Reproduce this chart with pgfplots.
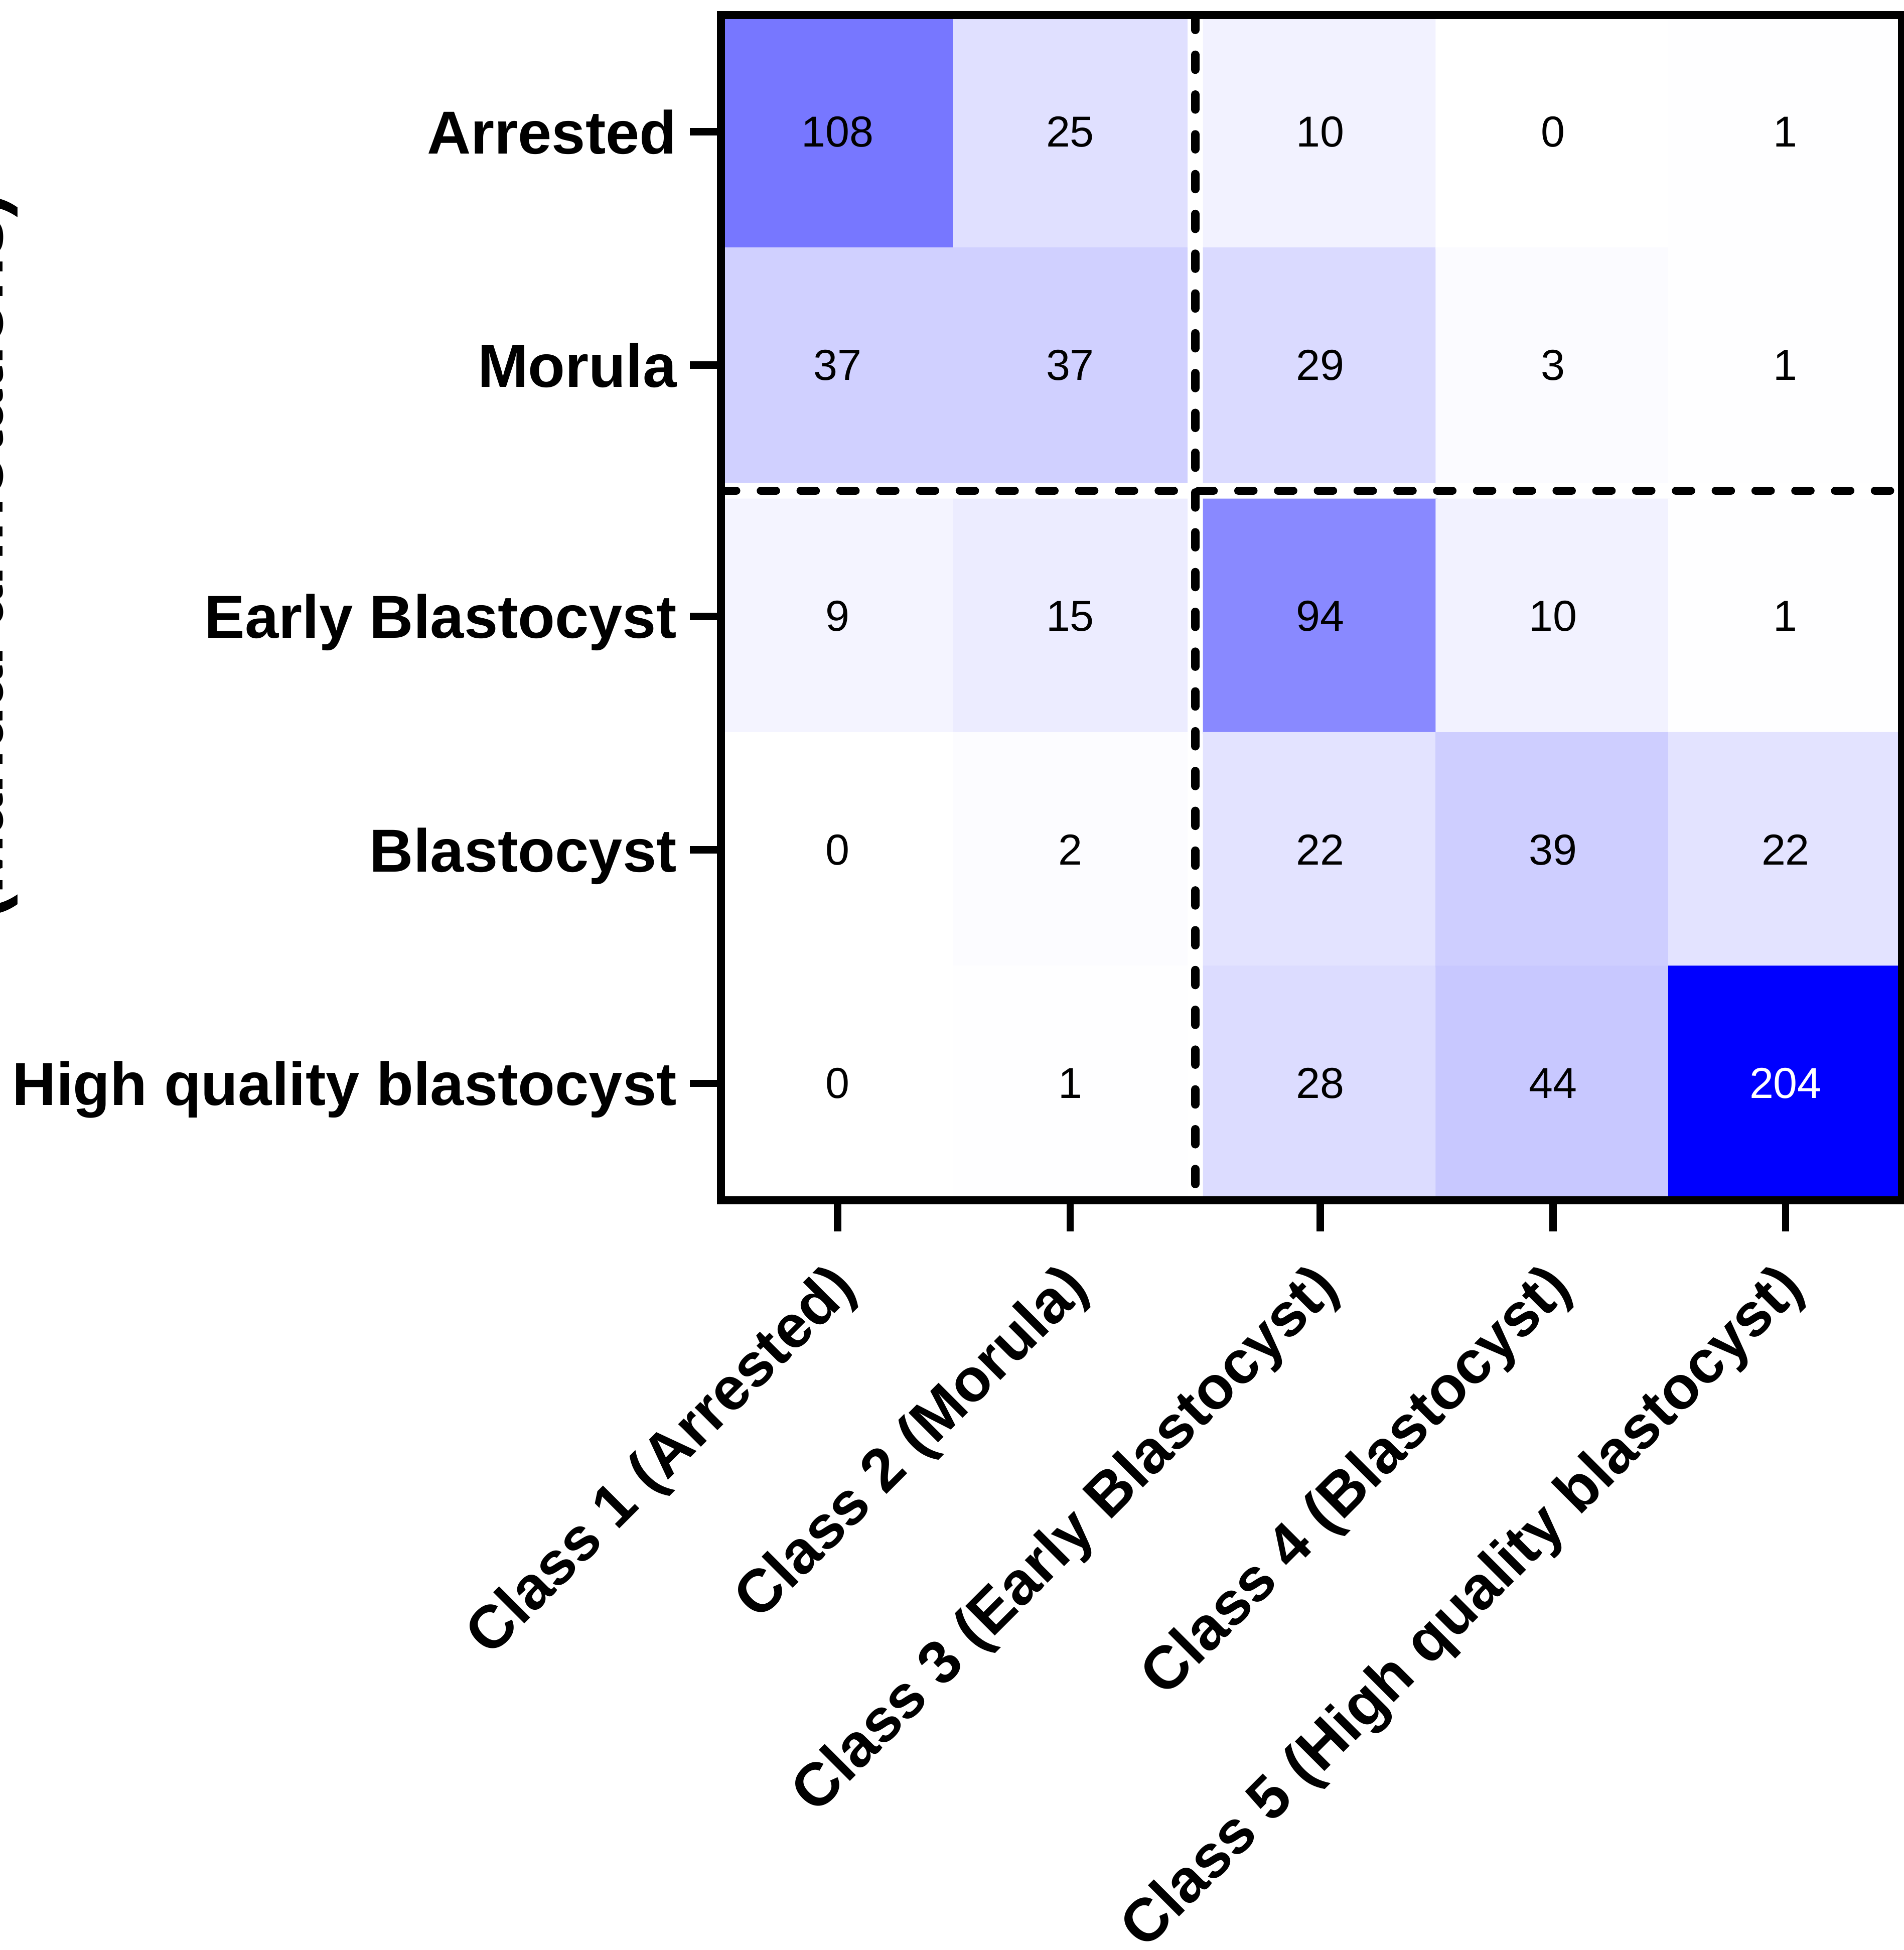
\documentclass[border=0pt]{standalone}
\usepackage{fontspec}
\setmainfont{Liberation Sans}
\usepackage{pgfplots}
\pgfplotsset{compat=1.18}
\begin{document}
\begin{tikzpicture}
\begin{axis}[
  scale only axis, width=237.4pt, height=238.25pt,
  xmin=-0.5, xmax=4.575, ymin=-0.5, ymax=4.575, y dir=reverse,
  enlargelimits=false, axis on top,
  colormap={bw}{rgb255=(255,255,255) rgb255=(0,0,255)},
  point meta min=0, point meta max=204,
  xtick={0,1,2.075,3.075,4.075}, ytick={0,1,2.075,3.075,4.075},
  xticklabels={Class 1 (Arrested), Class 2 (Morula), Class 3 (Early Blastocyst), Class 4 (Blastocyst), Class 5 (High quality blastocyst)},
  yticklabels={Arrested, Morula, Early Blastocyst, Blastocyst, High quality blastocyst},
  tick align=outside, xtick pos=bottom, ytick pos=left,
  major tick length=6.25pt,
  tick style={line width=1.5pt, black},
  axis line style={line width=1.6pt, black},
  ticklabel style={font=\bfseries\fontsize{12.2}{14}\selectfont, inner sep=0pt},
  xticklabel style={xshift=2pt, yshift=-9.5pt, rotate=45, anchor=east},
  yticklabel style={xshift=-2.5pt, yshift=-4.4pt, anchor=base east},
]
% block: rows 1-2, cols 1-2
\addplot[matrix plot*, mesh/cols=2, point meta=explicit] table[meta=c] {
x y c
0 0 108
1 0 25
0 1 37
1 1 37
};
% block: rows 1-2, cols 3-5
\addplot[matrix plot*, mesh/cols=3, point meta=explicit] table[meta=c] {
x y c
2.075 0 10
3.075 0 0
4.075 0 1
2.075 1 29
3.075 1 3
4.075 1 1
};
% block: rows 3-5, cols 1-2
\addplot[matrix plot*, mesh/cols=2, point meta=explicit] table[meta=c] {
x y c
0 2.075 9
1 2.075 15
0 3.075 0
1 3.075 2
0 4.075 0
1 4.075 1
};
% block: rows 3-5, cols 3-5
\addplot[matrix plot*, mesh/cols=3, point meta=explicit] table[meta=c] {
x y c
2.075 2.075 94
3.075 2.075 10
4.075 2.075 1
2.075 3.075 22
3.075 3.075 39
4.075 3.075 22
2.075 4.075 28
3.075 4.075 44
4.075 4.075 204
};
\draw[black, line width=1.7pt, line cap=round, dash pattern=on 3pt off 5pt] (axis cs:1.5375,-0.5) -- (axis cs:1.5375,4.575);
\draw[black, line width=1.7pt, line cap=round, dash pattern=on 3pt off 5pt] (axis cs:-0.5,1.5375) -- (axis cs:4.575,1.5375);
\addplot[draw=none, mark=none, point meta=explicit symbolic,
  nodes near coords={\pgfplotspointmeta},
  nodes near coords style={anchor=center, inner sep=0pt, text=black, font=\fontsize{8.7}{10}\selectfont}]
  table[meta=c] {
x y c
0 0 108
1 0 25
2.075 0 10
3.075 0 0
4.075 0 1
0 1 37
1 1 37
2.075 1 29
3.075 1 3
4.075 1 1
0 2.075 9
1 2.075 15
2.075 2.075 94
3.075 2.075 10
4.075 2.075 1
0 3.075 0
1 3.075 2
2.075 3.075 22
3.075 3.075 39
4.075 3.075 22
0 4.075 0
1 4.075 1
2.075 4.075 28
3.075 4.075 44
};
\addplot[draw=none, mark=none, point meta=explicit symbolic,
  nodes near coords={\pgfplotspointmeta},
  nodes near coords style={anchor=center, inner sep=0pt, text=white, font=\fontsize{8.7}{10}\selectfont}]
  table[meta=c] {
x y c
4.075 4.075 204
};
\end{axis}
\node[rotate=90, anchor=base, inner sep=0pt, font=\bfseries\fontsize{14.5}{17}\selectfont] at (-144.4pt,129.5pt) {(Manual annotations)};
\pgfresetboundingbox
\path[use as bounding box] (-145pt,-150.75pt) rectangle (237.75pt,241.25pt);
\end{tikzpicture}
\end{document}
